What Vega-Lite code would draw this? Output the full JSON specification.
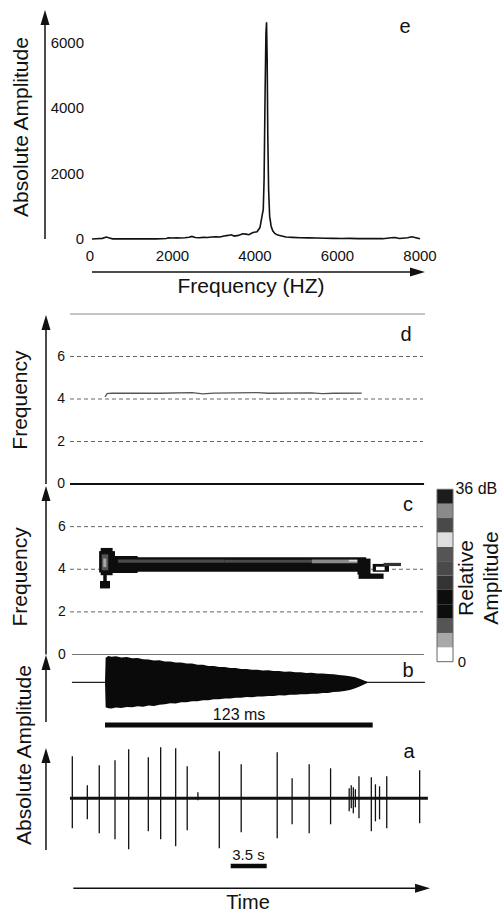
{
"$schema": "https://vega.github.io/schema/vega-lite/v6.json",
"width": 502, "height": 912,
"autosize": {"type": "none"},
"padding": 0,
"background": "white",
"config": {"view": {"stroke": null}, "axis": {"disable": true}, "legend": {"disable": true}, "font": "Liberation Sans", "text": {"font": "Liberation Sans", "color": "#111"}},
"resolve": {"scale": {"x": "independent", "y": "independent", "color": "independent"}},
"layer": [
{
 "data": {"values": [{}]},
 "layer": [
  {"data": {"values": [
   {"hz":48,"amp":0},{"hz":150,"amp":10},{"hz":300,"amp":20},{"hz":400,"amp":60},{"hz":450,"amp":40},{"hz":550,"amp":5},{"hz":800,"amp":5},{"hz":1200,"amp":5},{"hz":1600,"amp":5},{"hz":1850,"amp":15},{"hz":1900,"amp":35},{"hz":2000,"amp":30},{"hz":2100,"amp":40},{"hz":2200,"amp":30},{"hz":2300,"amp":40},{"hz":2400,"amp":55},{"hz":2470,"amp":80},{"hz":2550,"amp":45},{"hz":2650,"amp":40},{"hz":2750,"amp":50},{"hz":2850,"amp":45},{"hz":2950,"amp":60},{"hz":3050,"amp":70},{"hz":3150,"amp":60},{"hz":3250,"amp":90},{"hz":3350,"amp":110},{"hz":3420,"amp":130},{"hz":3500,"amp":90},{"hz":3600,"amp":110},{"hz":3700,"amp":160},{"hz":3780,"amp":150},{"hz":3850,"amp":130},{"hz":3950,"amp":200},{"hz":4050,"amp":220},{"hz":4120,"amp":350},{"hz":4170,"amp":700},{"hz":4200,"amp":900},{"hz":4220,"amp":1800},{"hz":4245,"amp":4500},{"hz":4265,"amp":6300},{"hz":4280,"amp":6640},{"hz":4295,"amp":5500},{"hz":4310,"amp":3200},{"hz":4330,"amp":1500},{"hz":4355,"amp":700},{"hz":4390,"amp":400},{"hz":4430,"amp":250},{"hz":4480,"amp":170},{"hz":4550,"amp":120},{"hz":4650,"amp":90},{"hz":4750,"amp":60},{"hz":4900,"amp":50},{"hz":5100,"amp":40},{"hz":5300,"amp":35},{"hz":5500,"amp":30},{"hz":5700,"amp":25},{"hz":5900,"amp":20},{"hz":6100,"amp":15},{"hz":6300,"amp":20},{"hz":6500,"amp":10},{"hz":6800,"amp":10},{"hz":7100,"amp":10},{"hz":7300,"amp":40},{"hz":7400,"amp":45},{"hz":7500,"amp":15},{"hz":7700,"amp":40},{"hz":7800,"amp":70},{"hz":7900,"amp":40},{"hz":8000,"amp":5}]},
   "mark": {"type": "line", "color": "#111", "strokeWidth": 1.6},
   "encoding": {"x": {"field": "hz", "type": "quantitative", "scale": {"domain": [0,8000], "range": [90,420], "zero": false, "nice": false}},
                "y": {"field": "amp", "type": "quantitative", "scale": {"domain": [0,6000], "range": [239,43.1], "zero": false, "nice": false}}}},
  {"mark": {"type": "rule", "color": "#111", "strokeWidth": 1.5},
   "encoding": {"x": {"datum": -1091, "type": "quantitative", "scale": {"domain": [0,8000], "range": [90,420], "zero": false, "nice": false}},
                "y": {"datum": 0, "type": "quantitative", "scale": {"domain": [0,6000], "range": [239,43.1], "zero": false, "nice": false}},
                "y2": {"datum": 6650}}},
  {"mark": {"type": "point", "shape": "M0,-1L0.6,1L-0.6,1Z", "size": 225, "filled": true, "color": "#111", "opacity": 1, "strokeWidth": 0},
   "encoding": {"x": {"datum": -1091, "type": "quantitative", "scale": {"domain": [0,8000], "range": [90,420], "zero": false, "nice": false}},
                "y": {"datum": 6784, "type": "quantitative", "scale": {"domain": [0,6000], "range": [239,43.1], "zero": false, "nice": false}}}},
  {"data": {"values": [{"v":0},{"v":2000},{"v":4000},{"v":6000}]},
   "mark": {"type": "text", "align": "right", "baseline": "middle", "fontSize": 15},
   "encoding": {"x": {"datum": -145, "type": "quantitative", "scale": {"domain": [0,8000], "range": [90,420], "zero": false, "nice": false}},
                "y": {"field": "v", "type": "quantitative", "scale": {"domain": [0,6000], "range": [239,43.1], "zero": false, "nice": false}},
                "text": {"field": "v", "type": "quantitative", "format": "d"}}},
  {"data": {"values": [{"v":0},{"v":2000},{"v":4000},{"v":6000},{"v":8000}]},
   "mark": {"type": "text", "align": "center", "baseline": "middle", "fontSize": 15},
   "encoding": {"x": {"field": "v", "type": "quantitative", "scale": {"domain": [0,8000], "range": [90,420], "zero": false, "nice": false}},
                "y": {"datum": -521, "type": "quantitative", "scale": {"domain": [0,6000], "range": [239,43.1], "zero": false, "nice": false}},
                "text": {"field": "v", "type": "quantitative", "format": "d"}}},
  {"mark": {"type": "rule", "color": "#111", "strokeWidth": 1.5},
   "encoding": {"x": {"datum": 48, "type": "quantitative", "scale": {"domain": [0,8000], "range": [90,420], "zero": false, "nice": false}},
                "x2": {"datum": 7879},
                "y": {"datum": -1011, "type": "quantitative", "scale": {"domain": [0,6000], "range": [239,43.1], "zero": false, "nice": false}}}},
  {"mark": {"type": "point", "shape": "M1,0L-1,-0.6L-1,0.6Z", "size": 225, "filled": true, "color": "#111", "opacity": 1, "strokeWidth": 0},
   "encoding": {"x": {"datum": 7939, "type": "quantitative", "scale": {"domain": [0,8000], "range": [90,420], "zero": false, "nice": false}},
                "y": {"datum": -1011, "type": "quantitative", "scale": {"domain": [0,6000], "range": [239,43.1], "zero": false, "nice": false}}}},
  {"mark": {"type": "text", "text": "Frequency (HZ)", "align": "center", "baseline": "middle", "fontSize": 21},
   "encoding": {"x": {"datum": 3903, "type": "quantitative", "scale": {"domain": [0,8000], "range": [90,420], "zero": false, "nice": false}},
                "y": {"datum": -1470, "type": "quantitative", "scale": {"domain": [0,6000], "range": [239,43.1], "zero": false, "nice": false}}}},
  {"mark": {"type": "text", "text": "Absolute Amplitude", "align": "center", "baseline": "middle", "fontSize": 21, "angle": 270},
   "encoding": {"x": {"datum": -1648, "type": "quantitative", "scale": {"domain": [0,8000], "range": [90,420], "zero": false, "nice": false}},
                "y": {"datum": 3430, "type": "quantitative", "scale": {"domain": [0,6000], "range": [239,43.1], "zero": false, "nice": false}}}},
  {"mark": {"type": "text", "text": "e", "align": "center", "baseline": "middle", "fontSize": 20},
   "encoding": {"x": {"datum": 7636, "type": "quantitative", "scale": {"domain": [0,8000], "range": [90,420], "zero": false, "nice": false}},
                "y": {"datum": 6493, "type": "quantitative", "scale": {"domain": [0,6000], "range": [239,43.1], "zero": false, "nice": false}}}}
 ]
},
{
 "data": {"values": [{}]},
 "layer": [
  {"mark": {"type": "rule", "color": "#888", "strokeWidth": 1},
   "encoding": {"x": {"datum": -16.08, "type": "quantitative", "scale": {"domain": [0,123], "range": [105,372.7], "zero": false, "nice": false}},
                "x2": {"datum": 147.03},
                "y": {"datum": 8, "type": "quantitative", "scale": {"domain": [0,8], "range": [484,314], "zero": false, "nice": false}}}},
  {"data": {"values": [{"v":2},{"v":4},{"v":6}]},
   "mark": {"type": "rule", "color": "#666", "strokeWidth": 1, "strokeDash": [4,3]},
   "encoding": {"x": {"datum": -16.08, "type": "quantitative", "scale": {"domain": [0,123], "range": [105,372.7], "zero": false, "nice": false}},
                "x2": {"datum": 146.1},
                "y": {"field": "v", "type": "quantitative", "scale": {"domain": [0,8], "range": [484,314], "zero": false, "nice": false}}}},
  {"mark": {"type": "rule", "color": "#111", "strokeWidth": 1.8},
   "encoding": {"x": {"datum": -16.08, "type": "quantitative", "scale": {"domain": [0,123], "range": [105,372.7], "zero": false, "nice": false}},
                "x2": {"datum": 146.6},
                "y": {"datum": 0, "type": "quantitative", "scale": {"domain": [0,8], "range": [484,314], "zero": false, "nice": false}}}},
  {"data": {"values": [{"v":0},{"v":2},{"v":4},{"v":6}]},
   "mark": {"type": "text", "align": "center", "baseline": "middle", "fontSize": 14},
   "encoding": {"x": {"datum": -20.2, "type": "quantitative", "scale": {"domain": [0,123], "range": [105,372.7], "zero": false, "nice": false}},
                "y": {"field": "v", "type": "quantitative", "scale": {"domain": [0,8], "range": [484,314], "zero": false, "nice": false}},
                "text": {"field": "v", "type": "quantitative", "format": "d"}}},
  {"mark": {"type": "rule", "color": "#111", "strokeWidth": 1.5},
   "encoding": {"x": {"datum": -27.11, "type": "quantitative", "scale": {"domain": [0,123], "range": [105,372.7], "zero": false, "nice": false}},
                "y": {"datum": 0, "type": "quantitative", "scale": {"domain": [0,8], "range": [484,314], "zero": false, "nice": false}},
                "y2": {"datum": 7.6}}},
  {"mark": {"type": "point", "shape": "M0,-1L0.6,1L-0.6,1Z", "size": 225, "filled": true, "color": "#111", "opacity": 1, "strokeWidth": 0},
   "encoding": {"x": {"datum": -27.11, "type": "quantitative", "scale": {"domain": [0,123], "range": [105,372.7], "zero": false, "nice": false}},
                "y": {"datum": 7.6, "type": "quantitative", "scale": {"domain": [0,8], "range": [484,314], "zero": false, "nice": false}}}},
  {"mark": {"type": "text", "text": "Frequency", "align": "center", "baseline": "middle", "fontSize": 21, "angle": 270},
   "encoding": {"x": {"datum": -38.6, "type": "quantitative", "scale": {"domain": [0,123], "range": [105,372.7], "zero": false, "nice": false}},
                "y": {"datum": 3.95, "type": "quantitative", "scale": {"domain": [0,8], "range": [484,314], "zero": false, "nice": false}}}},
  {"mark": {"type": "text", "text": "d", "align": "center", "baseline": "middle", "fontSize": 20},
   "encoding": {"x": {"datum": 138.3, "type": "quantitative", "scale": {"domain": [0,123], "range": [105,372.7], "zero": false, "nice": false}},
                "y": {"datum": 7.01, "type": "quantitative", "scale": {"domain": [0,8], "range": [484,314], "zero": false, "nice": false}}}},
  {"data": {"values": [{"t":0,"f":4.1},{"t":1,"f":4.25},{"t":3,"f":4.28},{"t":25,"f":4.27},{"t":40,"f":4.3},{"t":45,"f":4.24},{"t":50,"f":4.28},{"t":70,"f":4.3},{"t":75,"f":4.27},{"t":95,"f":4.29},{"t":100,"f":4.25},{"t":105,"f":4.27},{"t":118,"f":4.28}]},
   "mark": {"type": "line", "color": "#555", "strokeWidth": 1.3},
   "encoding": {"x": {"field": "t", "type": "quantitative", "scale": {"domain": [0,123], "range": [105,372.7], "zero": false, "nice": false}},
                "y": {"field": "f", "type": "quantitative", "scale": {"domain": [0,8], "range": [484,314], "zero": false, "nice": false}}}}
 ]
},
{
 "data": {"values": [{}]},
 "layer": [
  {"data": {"values": [{"v":2},{"v":4},{"v":6}]},
   "mark": {"type": "rule", "color": "#666", "strokeWidth": 1, "strokeDash": [4,3]},
   "encoding": {"x": {"datum": -16.08, "type": "quantitative", "scale": {"domain": [0,123], "range": [105,372.7], "zero": false, "nice": false}},
                "x2": {"datum": 146.1},
                "y": {"field": "v", "type": "quantitative", "scale": {"domain": [0,8], "range": [654.5,484], "zero": false, "nice": false}}}},
  {"mark": {"type": "rule", "color": "#777", "strokeWidth": 1},
   "encoding": {"x": {"datum": -15.2, "type": "quantitative", "scale": {"domain": [0,123], "range": [105,372.7], "zero": false, "nice": false}},
                "x2": {"datum": 146.6},
                "y": {"datum": 0, "type": "quantitative", "scale": {"domain": [0,8], "range": [654.5,484], "zero": false, "nice": false}}}},
  {"data": {"values": [{"v":0},{"v":2},{"v":4},{"v":6}]},
   "mark": {"type": "text", "align": "center", "baseline": "middle", "fontSize": 14},
   "encoding": {"x": {"datum": -19.76, "type": "quantitative", "scale": {"domain": [0,123], "range": [105,372.7], "zero": false, "nice": false}},
                "y": {"field": "v", "type": "quantitative", "scale": {"domain": [0,8], "range": [654.5,484], "zero": false, "nice": false}},
                "text": {"field": "v", "type": "quantitative", "format": "d"}}},
  {"mark": {"type": "rule", "color": "#111", "strokeWidth": 1.5},
   "encoding": {"x": {"datum": -27.11, "type": "quantitative", "scale": {"domain": [0,123], "range": [105,372.7], "zero": false, "nice": false}},
                "y": {"datum": 0, "type": "quantitative", "scale": {"domain": [0,8], "range": [654.5,484], "zero": false, "nice": false}},
                "y2": {"datum": 7.55}}},
  {"mark": {"type": "point", "shape": "M0,-1L0.6,1L-0.6,1Z", "size": 225, "filled": true, "color": "#111", "opacity": 1, "strokeWidth": 0},
   "encoding": {"x": {"datum": -27.11, "type": "quantitative", "scale": {"domain": [0,123], "range": [105,372.7], "zero": false, "nice": false}},
                "y": {"datum": 7.55, "type": "quantitative", "scale": {"domain": [0,8], "range": [654.5,484], "zero": false, "nice": false}}}},
  {"mark": {"type": "text", "text": "Frequency", "align": "center", "baseline": "middle", "fontSize": 21, "angle": 270},
   "encoding": {"x": {"datum": -38.6, "type": "quantitative", "scale": {"domain": [0,123], "range": [105,372.7], "zero": false, "nice": false}},
                "y": {"datum": 3.64, "type": "quantitative", "scale": {"domain": [0,8], "range": [654.5,484], "zero": false, "nice": false}}}},
  {"mark": {"type": "text", "text": "c", "align": "center", "baseline": "middle", "fontSize": 20},
   "encoding": {"x": {"datum": 139.2, "type": "quantitative", "scale": {"domain": [0,123], "range": [105,372.7], "zero": false, "nice": false}},
                "y": {"datum": 7.01, "type": "quantitative", "scale": {"domain": [0,8], "range": [654.5,484], "zero": false, "nice": false}}}},
  {"data": {"values": [
    {"t0":-1,"t1":120,"f0":3.88,"f1":4.56,"db":13},
    {"t0":2,"t1":15,"f0":3.82,"f1":4.62,"db":13},
    {"t0":-2.7,"t1":4.6,"f0":3.85,"f1":4.85,"db":13},
    {"t0":-2,"t1":3.5,"f0":3.72,"f1":5.0,"db":13},
    {"t0":-1.5,"t1":1.5,"f0":3.95,"f1":4.7,"db":7},
    {"t0":-0.8,"t1":0.6,"f0":4.1,"f1":4.5,"db":4},
    {"t0":-0.8,"t1":0.8,"f0":3.35,"f1":3.75,"db":13},
    {"t0":-2.3,"t1":2.3,"f0":3.1,"f1":3.45,"db":13},
    {"t0":6,"t1":55,"f0":4.3,"f1":4.46,"db":19},
    {"t0":55,"t1":95,"f0":4.31,"f1":4.45,"db":29},
    {"t0":95,"t1":117,"f0":4.28,"f1":4.46,"db":31},
    {"t0":112,"t1":117,"f0":4.36,"f1":4.44,"db":25},
    {"t0":116,"t1":122,"f0":3.75,"f1":4.5,"db":13},
    {"t0":116.5,"t1":128,"f0":3.55,"f1":3.8,"db":13},
    {"t0":123,"t1":130.5,"f0":3.88,"f1":4.25,"db":13},
    {"t0":124.5,"t1":128.5,"f0":3.95,"f1":4.12,"db":1},
    {"t0":128,"t1":136,"f0":4.15,"f1":4.3,"db":16}
   ]},
   "mark": {"type": "rect"},
   "encoding": {"x": {"field": "t0", "type": "quantitative", "scale": {"domain": [0,123], "range": [105,372.7], "zero": false, "nice": false}},
                "x2": {"field": "t1"},
                "y": {"field": "f0", "type": "quantitative", "scale": {"domain": [0,8], "range": [654.5,484], "zero": false, "nice": false}},
                "y2": {"field": "f1"},
                "color": {"field": "db", "type": "quantitative", "scale": {"type": "threshold", "domain": [3,6,9,12,15,18,21,24,27,30,33], "range": ["#ffffff","#a8a8a8","#555555","#0d0d0d","#0d0d0d","#333333","#4a4a4a","#555555","#dedede","#494949","#8a8a8a","#1c1c1c"]}}}}
 ]
},
{
 "data": {"values": [{}]},
 "layer": [
  {"mark": {"type": "rule", "color": "#222", "strokeWidth": 1.3},
   "encoding": {"x": {"datum": -15.2, "type": "quantitative", "scale": {"domain": [0,123], "range": [105,372.7], "zero": false, "nice": false}},
                "x2": {"datum": 147},
                "y": {"datum": 0, "type": "quantitative", "scale": {"domain": [-3,3], "range": [712.3,652.3], "zero": false, "nice": false}}}},
  {"data": {"values": [
    {"t":0,"hi":0,"lo":0},{"t":0.3,"hi":2.45,"lo":-2.5},{"t":1.5,"hi":2.64,"lo":-2.6},{"t":3,"hi":2.55,"lo":-2.62},{"t":5,"hi":2.6,"lo":-2.52},{"t":7.5,"hi":2.48,"lo":-2.58},{"t":10,"hi":2.52,"lo":-2.47},{"t":12.5,"hi":2.4,"lo":-2.5},{"t":15,"hi":2.42,"lo":-2.4},{"t":17.5,"hi":2.3,"lo":-2.44},{"t":20,"hi":2.28,"lo":-2.33},{"t":22.5,"hi":2.18,"lo":-2.36},{"t":25,"hi":2.2,"lo":-2.24},{"t":27.5,"hi":2.08,"lo":-2.2},{"t":30,"hi":2.07,"lo":-2.1},{"t":32.5,"hi":1.97,"lo":-2.12},{"t":35,"hi":1.98,"lo":-2.0},{"t":37.5,"hi":1.87,"lo":-2.0},{"t":40,"hi":1.88,"lo":-1.9},{"t":42.5,"hi":1.76,"lo":-1.9},{"t":45,"hi":1.75,"lo":-1.8},{"t":47.5,"hi":1.64,"lo":-1.8},{"t":50,"hi":1.63,"lo":-1.7},{"t":52.5,"hi":1.52,"lo":-1.7},{"t":55,"hi":1.52,"lo":-1.62},{"t":57.5,"hi":1.42,"lo":-1.62},{"t":60,"hi":1.42,"lo":-1.55},{"t":62.5,"hi":1.33,"lo":-1.55},{"t":65,"hi":1.34,"lo":-1.48},{"t":67.5,"hi":1.25,"lo":-1.49},{"t":70,"hi":1.26,"lo":-1.43},{"t":72.5,"hi":1.18,"lo":-1.43},{"t":75,"hi":1.2,"lo":-1.37},{"t":77.5,"hi":1.12,"lo":-1.38},{"t":80,"hi":1.13,"lo":-1.3},{"t":82.5,"hi":1.06,"lo":-1.31},{"t":85,"hi":1.07,"lo":-1.24},{"t":87.5,"hi":1.0,"lo":-1.25},{"t":90,"hi":1.01,"lo":-1.19},{"t":92.5,"hi":0.94,"lo":-1.2},{"t":95,"hi":0.95,"lo":-1.14},{"t":97.5,"hi":0.88,"lo":-1.14},{"t":100,"hi":0.89,"lo":-1.07},{"t":102.5,"hi":0.82,"lo":-1.06},{"t":105,"hi":0.8,"lo":-0.98},{"t":107.5,"hi":0.72,"lo":-0.95},{"t":110,"hi":0.68,"lo":-0.86},{"t":112.5,"hi":0.6,"lo":-0.76},{"t":115,"hi":0.5,"lo":-0.6},{"t":117,"hi":0.35,"lo":-0.42},{"t":119,"hi":0.18,"lo":-0.22},{"t":120.5,"hi":0.06,"lo":-0.08}
   ]},
   "mark": {"type": "area", "color": "#0a0a0a", "opacity": 1},
   "encoding": {"x": {"field": "t", "type": "quantitative", "scale": {"domain": [0,123], "range": [105,372.7], "zero": false, "nice": false}},
                "y": {"field": "hi", "type": "quantitative", "scale": {"domain": [-3,3], "range": [712.3,652.3], "zero": false, "nice": false}},
                "y2": {"field": "lo"}}},
  {"mark": {"type": "rule", "color": "#111", "strokeWidth": 1.5},
   "encoding": {"x": {"datum": -27.11, "type": "quantitative", "scale": {"domain": [0,123], "range": [105,372.7], "zero": false, "nice": false}},
                "y": {"datum": -3.97, "type": "quantitative", "scale": {"domain": [-3,3], "range": [712.3,652.3], "zero": false, "nice": false}},
                "y2": {"datum": 1.9}}},
  {"mark": {"type": "point", "shape": "M0,-1L0.6,1L-0.6,1Z", "size": 225, "filled": true, "color": "#111", "opacity": 1, "strokeWidth": 0},
   "encoding": {"x": {"datum": -27.11, "type": "quantitative", "scale": {"domain": [0,123], "range": [105,372.7], "zero": false, "nice": false}},
                "y": {"datum": 1.98, "type": "quantitative", "scale": {"domain": [-3,3], "range": [712.3,652.3], "zero": false, "nice": false}}}},
  {"mark": {"type": "text", "text": "b", "align": "center", "baseline": "middle", "fontSize": 20},
   "encoding": {"x": {"datum": 139.2, "type": "quantitative", "scale": {"domain": [0,123], "range": [105,372.7], "zero": false, "nice": false}},
                "y": {"datum": 1.13, "type": "quantitative", "scale": {"domain": [-3,3], "range": [712.3,652.3], "zero": false, "nice": false}}}},
  {"mark": {"type": "rule", "color": "#0a0a0a", "strokeWidth": 5},
   "encoding": {"x": {"datum": 0, "type": "quantitative", "scale": {"domain": [0,123], "range": [105,372.7], "zero": false, "nice": false}},
                "x2": {"datum": 123},
                "y": {"datum": -4.27, "type": "quantitative", "scale": {"domain": [-3,3], "range": [712.3,652.3], "zero": false, "nice": false}}}},
  {"mark": {"type": "text", "text": "123 ms", "align": "center", "baseline": "middle", "fontSize": 16},
   "encoding": {"x": {"datum": 61.6, "type": "quantitative", "scale": {"domain": [0,123], "range": [105,372.7], "zero": false, "nice": false}},
                "y": {"datum": -3.27, "type": "quantitative", "scale": {"domain": [-3,3], "range": [712.3,652.3], "zero": false, "nice": false}}}}
 ]
},
{
 "data": {"values": [{}]},
 "layer": [
  {"mark": {"type": "rule", "color": "#111", "strokeWidth": 3},
   "encoding": {"x": {"datum": -0.2, "type": "quantitative", "scale": {"domain": [0,35], "range": [72,432], "zero": false, "nice": false}},
                "x2": {"datum": 34.6},
                "y": {"datum": 0, "type": "quantitative", "scale": {"domain": [-5,5], "range": [848.3,748.3], "zero": false, "nice": false}}}},
  {"data": {"values": [
    {"t":0.03,"hi":4.2,"lo":-3.0},{"t":1.49,"hi":1.3,"lo":-2.1},{"t":2.65,"hi":3.3,"lo":-3.5},{"t":4.18,"hi":3.8,"lo":-4.1},{"t":5.51,"hi":4.9,"lo":-5.1},{"t":7.42,"hi":4.1,"lo":-3.3},{"t":8.62,"hi":5.1,"lo":-4.1},{"t":10.08,"hi":5.0,"lo":-4.8},{"t":11.2,"hi":3.2,"lo":-3.2},{"t":12.24,"hi":0.6,"lo":-0.2},{"t":14.32,"hi":4.7,"lo":-5.0},{"t":16.45,"hi":3.4,"lo":-3.4},{"t":19.95,"hi":4.6,"lo":-4.0},{"t":21.4,"hi":2.0,"lo":-2.6},{"t":23.06,"hi":3.4,"lo":-3.5},{"t":25.14,"hi":3.0,"lo":-2.6},{"t":26.95,"hi":1.0,"lo":-1.3},{"t":27.15,"hi":1.3,"lo":-1.0},{"t":27.35,"hi":1.1,"lo":-1.5},{"t":27.55,"hi":0.9,"lo":-0.9},{"t":27.9,"hi":2.2,"lo":-2.0},{"t":29.1,"hi":2.1,"lo":-3.3},{"t":29.5,"hi":1.4,"lo":-2.3},{"t":29.9,"hi":1.2,"lo":-2.1},{"t":30.6,"hi":2.2,"lo":-3.0},{"t":33.8,"hi":2.8,"lo":-2.5}
   ]},
   "mark": {"type": "rule", "color": "#111", "strokeWidth": 1.3},
   "encoding": {"x": {"field": "t", "type": "quantitative", "scale": {"domain": [0,35], "range": [72,432], "zero": false, "nice": false}},
                "y": {"field": "hi", "type": "quantitative", "scale": {"domain": [-5,5], "range": [848.3,748.3], "zero": false, "nice": false}},
                "y2": {"field": "lo"}}},
  {"mark": {"type": "rule", "color": "#111", "strokeWidth": 1.5},
   "encoding": {"x": {"datum": -2.53, "type": "quantitative", "scale": {"domain": [0,35], "range": [72,432], "zero": false, "nice": false}},
                "y": {"datum": -5.17, "type": "quantitative", "scale": {"domain": [-5,5], "range": [848.3,748.3], "zero": false, "nice": false}},
                "y2": {"datum": 4.2}}},
  {"mark": {"type": "point", "shape": "M0,-1L0.6,1L-0.6,1Z", "size": 225, "filled": true, "color": "#111", "opacity": 1, "strokeWidth": 0},
   "encoding": {"x": {"datum": -2.53, "type": "quantitative", "scale": {"domain": [0,35], "range": [72,432], "zero": false, "nice": false}},
                "y": {"datum": 4.28, "type": "quantitative", "scale": {"domain": [-5,5], "range": [848.3,748.3], "zero": false, "nice": false}}}},
  {"mark": {"type": "text", "text": "a", "align": "center", "baseline": "middle", "fontSize": 20},
   "encoding": {"x": {"datum": 32.76, "type": "quantitative", "scale": {"domain": [0,35], "range": [72,432], "zero": false, "nice": false}},
                "y": {"datum": 4.63, "type": "quantitative", "scale": {"domain": [-5,5], "range": [848.3,748.3], "zero": false, "nice": false}}}},
  {"mark": {"type": "rule", "color": "#0a0a0a", "strokeWidth": 4.5},
   "encoding": {"x": {"datum": 15.43, "type": "quantitative", "scale": {"domain": [0,35], "range": [72,432], "zero": false, "nice": false}},
                "x2": {"datum": 18.93},
                "y": {"datum": -6.77, "type": "quantitative", "scale": {"domain": [-5,5], "range": [848.3,748.3], "zero": false, "nice": false}}}},
  {"mark": {"type": "text", "text": "3.5 s", "align": "center", "baseline": "middle", "fontSize": 15},
   "encoding": {"x": {"datum": 17.16, "type": "quantitative", "scale": {"domain": [0,35], "range": [72,432], "zero": false, "nice": false}},
                "y": {"datum": -5.67, "type": "quantitative", "scale": {"domain": [-5,5], "range": [848.3,748.3], "zero": false, "nice": false}}}},
  {"mark": {"type": "rule", "color": "#111", "strokeWidth": 1.5},
   "encoding": {"x": {"datum": 0.13, "type": "quantitative", "scale": {"domain": [0,35], "range": [72,432], "zero": false, "nice": false}},
                "x2": {"datum": 33.35},
                "y": {"datum": -9.0, "type": "quantitative", "scale": {"domain": [-5,5], "range": [848.3,748.3], "zero": false, "nice": false}}}},
  {"mark": {"type": "point", "shape": "M1,0L-1,-0.6L-1,0.6Z", "size": 225, "filled": true, "color": "#111", "opacity": 1, "strokeWidth": 0},
   "encoding": {"x": {"datum": 34.08, "type": "quantitative", "scale": {"domain": [0,35], "range": [72,432], "zero": false, "nice": false}},
                "y": {"datum": -9.0, "type": "quantitative", "scale": {"domain": [-5,5], "range": [848.3,748.3], "zero": false, "nice": false}}}},
  {"mark": {"type": "text", "text": "Time", "align": "center", "baseline": "middle", "fontSize": 20},
   "encoding": {"x": {"datum": 17.11, "type": "quantitative", "scale": {"domain": [0,35], "range": [72,432], "zero": false, "nice": false}},
                "y": {"datum": -10.47, "type": "quantitative", "scale": {"domain": [-5,5], "range": [848.3,748.3], "zero": false, "nice": false}}}},
  {"mark": {"type": "text", "text": "Absolute Amplitude", "align": "center", "baseline": "middle", "fontSize": 21, "angle": 270},
   "encoding": {"x": {"datum": -4.57, "type": "quantitative", "scale": {"domain": [0,35], "range": [72,432], "zero": false, "nice": false}},
                "y": {"datum": 4.33, "type": "quantitative", "scale": {"domain": [-5,5], "range": [848.3,748.3], "zero": false, "nice": false}}}}
 ]
},
{
 "data": {"values": [{}]},
 "layer": [
  {"data": {"values": [
    {"lo":0,"hi":3,"db":1.5},{"lo":3,"hi":6,"db":4.5},{"lo":6,"hi":9,"db":7.5},{"lo":9,"hi":12,"db":10.5},{"lo":12,"hi":15,"db":13.5},{"lo":15,"hi":18,"db":16.5},{"lo":18,"hi":21,"db":19.5},{"lo":21,"hi":24,"db":22.5},{"lo":24,"hi":27,"db":25.5},{"lo":27,"hi":30,"db":28.5},{"lo":30,"hi":33,"db":31.5},{"lo":33,"hi":36,"db":34.5}
   ]},
   "mark": {"type": "rect"},
   "encoding": {"x": {"datum": 0, "type": "quantitative", "scale": {"domain": [0,1], "range": [437,453], "zero": false, "nice": false}},
                "x2": {"datum": 1},
                "y": {"field": "lo", "type": "quantitative", "scale": {"domain": [0,36], "range": [661.7,489.3], "zero": false, "nice": false}},
                "y2": {"field": "hi"},
                "color": {"field": "db", "type": "quantitative", "scale": {"type": "threshold", "domain": [3,6,9,12,15,18,21,24,27,30,33], "range": ["#ffffff","#a8a8a8","#555555","#0d0d0d","#0d0d0d","#333333","#4a4a4a","#555555","#dedede","#494949","#8a8a8a","#1c1c1c"]}}}},
  {"mark": {"type": "rect", "filled": false, "stroke": "#666", "strokeWidth": 1},
   "encoding": {"x": {"datum": 0, "type": "quantitative", "scale": {"domain": [0,1], "range": [437,453], "zero": false, "nice": false}},
                "x2": {"datum": 1},
                "y": {"datum": 0, "type": "quantitative", "scale": {"domain": [0,36], "range": [661.7,489.3], "zero": false, "nice": false}},
                "y2": {"datum": 36}}},
  {"mark": {"type": "text", "text": "36 dB", "align": "left", "baseline": "middle", "fontSize": 16},
   "encoding": {"x": {"datum": 1.15, "type": "quantitative", "scale": {"domain": [0,1], "range": [437,453], "zero": false, "nice": false}},
                "y": {"datum": 35.96, "type": "quantitative", "scale": {"domain": [0,36], "range": [661.7,489.3], "zero": false, "nice": false}}}},
  {"mark": {"type": "text", "text": "0", "align": "center", "baseline": "middle", "fontSize": 15},
   "encoding": {"x": {"datum": 1.55, "type": "quantitative", "scale": {"domain": [0,1], "range": [437,453], "zero": false, "nice": false}},
                "y": {"datum": -0.1, "type": "quantitative", "scale": {"domain": [0,36], "range": [661.7,489.3], "zero": false, "nice": false}}}},
  {"mark": {"type": "text", "text": "Relative", "align": "center", "baseline": "middle", "fontSize": 21, "angle": 270},
   "encoding": {"x": {"datum": 1.875, "type": "quantitative", "scale": {"domain": [0,1], "range": [437,453], "zero": false, "nice": false}},
                "y": {"datum": 17.48, "type": "quantitative", "scale": {"domain": [0,36], "range": [661.7,489.3], "zero": false, "nice": false}}}},
  {"mark": {"type": "text", "text": "Amplitude", "align": "center", "baseline": "middle", "fontSize": 21, "angle": 270},
   "encoding": {"x": {"datum": 3.45, "type": "quantitative", "scale": {"domain": [0,1], "range": [437,453], "zero": false, "nice": false}},
                "y": {"datum": 17.48, "type": "quantitative", "scale": {"domain": [0,36], "range": [661.7,489.3], "zero": false, "nice": false}}}}
 ]
}
]
}
